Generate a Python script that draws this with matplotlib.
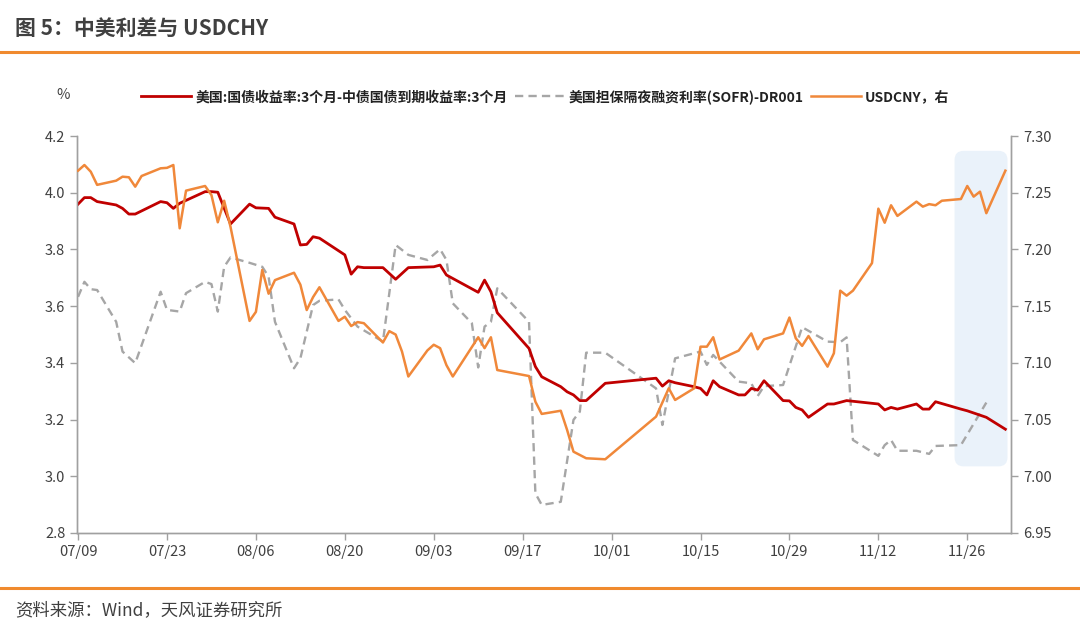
import matplotlib
matplotlib.use("Agg")
import matplotlib.pyplot as plt
import matplotlib.dates as mdates
import numpy as np
import pandas as pd
from matplotlib.lines import Line2D
from matplotlib.patches import FancyBboxPatch
from matplotlib.transforms import IdentityTransform

plt.rcParams["font.family"] = ["Noto Sans CJK SC", "DejaVu Sans"]

YEAR = "2024-"

# 美国:国债收益率:3个月-中债国债到期收益率:3个月 (left axis)
spread_dates = [
    "07-09", "07-10", "07-11", "07-12", "07-15", "07-16", "07-17", "07-18", "07-22", "07-23",
    "07-24", "07-25", "07-29", "07-30", "07-31", "08-02", "08-05", "08-06", "08-08", "08-09",
    "08-12", "08-13", "08-14", "08-15", "08-16", "08-20", "08-21", "08-22", "08-23", "08-26",
    "08-28", "08-30", "09-03", "09-04", "09-05", "09-10", "09-11", "09-12", "09-13", "09-18",
    "09-19", "09-20", "09-23", "09-24", "09-25", "09-26", "09-27", "09-30", "10-08", "10-09",
    "10-10", "10-11", "10-14", "10-15", "10-16", "10-17", "10-18", "10-21", "10-22", "10-23",
    "10-24", "10-25", "10-28", "10-29", "10-30", "10-31", "11-01", "11-04", "11-05", "11-07",
    "11-12", "11-13", "11-14", "11-15", "11-18", "11-19", "11-20", "11-21", "11-25", "11-26",
    "11-29", "12-02",
]
spread_vals = [
    3.960, 3.983, 3.983, 3.969, 3.957, 3.945, 3.925, 3.925, 3.969, 3.965,
    3.945, 3.963, 4.004, 4.004, 4.002, 3.890, 3.960, 3.947, 3.945, 3.914,
    3.890, 3.816, 3.818, 3.845, 3.840, 3.781, 3.713, 3.739, 3.736, 3.736,
    3.695, 3.736, 3.739, 3.745, 3.710, 3.649, 3.692, 3.651, 3.577, 3.451,
    3.387, 3.351, 3.316, 3.298, 3.287, 3.267, 3.267, 3.328, 3.346, 3.318,
    3.337, 3.330, 3.316, 3.310, 3.287, 3.337, 3.316, 3.287, 3.287, 3.310,
    3.304, 3.337, 3.267, 3.266, 3.243, 3.234, 3.208, 3.255, 3.255, 3.267,
    3.255, 3.234, 3.243, 3.237, 3.255, 3.237, 3.237, 3.263, 3.237, 3.231,
    3.208, 3.166,
]

# 美国担保隔夜融资利率(SOFR)-DR001 (left axis)
sofr_dates = [
    "07-09", "07-10", "07-11", "07-12", "07-15", "07-16", "07-18", "07-22", "07-23", "07-25",
    "07-26", "07-29", "07-30", "07-31", "08-01", "08-02", "08-05", "08-07", "08-08", "08-09",
    "08-12", "08-13", "08-15", "08-16", "08-19", "08-20", "08-22", "08-26", "08-28", "08-30",
    "09-02", "09-04", "09-05", "09-06", "09-09", "09-10", "09-11", "09-12", "09-13", "09-18",
    "09-19", "09-20", "09-23", "09-25", "09-26", "09-27", "09-30", "10-08", "10-09", "10-11",
    "10-15", "10-16", "10-17", "10-21", "10-23", "10-24", "10-25", "10-28", "10-31", "11-04",
    "11-06", "11-07", "11-08", "11-12", "11-13", "11-14", "11-15", "11-18", "11-20", "11-21",
    "11-25", "11-29",
]
sofr_vals = [
    3.633, 3.686, 3.660, 3.657, 3.545, 3.440, 3.399, 3.651, 3.587, 3.581,
    3.646, 3.686, 3.678, 3.581, 3.739, 3.772, 3.753, 3.739, 3.704, 3.545,
    3.381, 3.416, 3.604, 3.619, 3.624, 3.587, 3.528, 3.475, 3.816, 3.781,
    3.763, 3.801, 3.763, 3.610, 3.540, 3.384, 3.528, 3.545, 3.663, 3.545,
    2.940, 2.899, 2.910, 3.199, 3.228, 3.436, 3.436, 3.310, 3.181, 3.416,
    3.440, 3.393, 3.428, 3.334, 3.328, 3.283, 3.318, 3.322, 3.526, 3.475,
    3.473, 3.490, 3.128, 3.072, 3.110, 3.128, 3.090, 3.090, 3.079, 3.107,
    3.110, 3.260,
]

# USDCNY (right axis)
usd_dates = [
    "07-09", "07-10", "07-11", "07-12", "07-15", "07-16", "07-17", "07-18", "07-19", "07-22",
    "07-23", "07-24", "07-25", "07-26", "07-29", "07-30", "07-31", "08-01", "08-02", "08-05",
    "08-06", "08-07", "08-08", "08-09", "08-12", "08-13", "08-14", "08-15", "08-16", "08-19",
    "08-20", "08-21", "08-22", "08-23", "08-26", "08-27", "08-28", "08-29", "08-30", "09-02",
    "09-03", "09-04", "09-05", "09-06", "09-10", "09-11", "09-12", "09-13", "09-18", "09-19",
    "09-20", "09-23", "09-24", "09-25", "09-27", "09-30", "10-08", "10-10", "10-11", "10-14",
    "10-15", "10-16", "10-17", "10-18", "10-21", "10-23", "10-24", "10-25", "10-28", "10-29",
    "10-30", "10-31", "11-01", "11-04", "11-05", "11-06", "11-07", "11-08", "11-11", "11-12",
    "11-13", "11-14", "11-15", "11-18", "11-19", "11-20", "11-21", "11-22", "11-25", "11-26",
    "11-27", "11-28", "11-29", "12-02",
]
usd_vals = [
    7.2695, 7.2745, 7.2686, 7.2570, 7.2607, 7.2642, 7.2637, 7.2554, 7.2648, 7.2716,
    7.2720, 7.2745, 7.2187, 7.2519, 7.2560, 7.2480, 7.2240, 7.2430, 7.2200, 7.1370,
    7.1450, 7.1820, 7.1610, 7.1730, 7.1795, 7.1690, 7.1466, 7.1580, 7.1667, 7.1370,
    7.1407, 7.1325, 7.1360, 7.1350, 7.1180, 7.1280, 7.1250, 7.1100, 7.0880, 7.1110,
    7.1160, 7.1130, 7.0980, 7.0880, 7.1226, 7.1130, 7.1226, 7.0937, 7.0884, 7.0658,
    7.0550, 7.0578, 7.0408, 7.0217, 7.0159, 7.0150, 7.0526, 7.0776, 7.0673, 7.0776,
    7.1143, 7.1143, 7.1226, 7.1030, 7.1108, 7.1260, 7.1120, 7.1208, 7.1260, 7.1400,
    7.1217, 7.1150, 7.1237, 7.0967, 7.1085, 7.1637, 7.1593, 7.1637, 7.1880, 7.2360,
    7.2236, 7.2390, 7.2296, 7.2422, 7.2378, 7.2400, 7.2390, 7.2430, 7.2445, 7.2560,
    7.2466, 7.2510, 7.2320, 7.2695,
]

labels = [
    "美国:国债收益率:3个月-中债国债到期收益率:3个月",
    "美国担保隔夜融资利率(SOFR)-DR001",
    "USDCNY，右",
]

# highlighted window
hl_start, hl_end = "11-24", "12-02"
hl_low, hl_high = 3.035, 4.148


def to_dt(days):
    return pd.to_datetime([YEAR + d for d in days])


RED = "#C00000"
ORANGE = "#F0883A"
GRAY = "#A6A6A6"
TEXT = "#404040"
AXIS = "#A0A0A0"

fig = plt.figure(figsize=(10.8, 6.33), dpi=100)
ax1 = fig.add_axes([0.0713, 0.158, 0.865, 0.627])
ax2 = ax1.twinx()

l1, = ax1.plot(to_dt(spread_dates), spread_vals, color=RED, lw=2.0, zorder=4)
l2, = ax1.plot(to_dt(sofr_dates), sofr_vals, color=GRAY, lw=1.7,
               dashes=(3.5, 2.2), zorder=3)
l3, = ax2.plot(to_dt(usd_dates), usd_vals, color=ORANGE, lw=1.8, zorder=3)

ax1.set_ylim(2.8, 4.2)
ax1.set_yticks(np.arange(2.8, 4.21, 0.2))
ax1.yaxis.set_major_formatter(matplotlib.ticker.FormatStrFormatter("%.1f"))
ax2.set_ylim(6.95, 7.30)
ax2.set_yticks(np.arange(6.95, 7.301, 0.05))
ax2.yaxis.set_major_formatter(matplotlib.ticker.FormatStrFormatter("%.2f"))

x0 = pd.Timestamp(YEAR + "07-09")
ax1.set_xlim(x0 - pd.Timedelta(hours=4), pd.Timestamp(YEAR + "12-02") + pd.Timedelta(hours=22))
ax1.set_xticks(pd.date_range(x0, periods=11, freq="14D"))
ax1.xaxis.set_major_formatter(mdates.DateFormatter("%m/%d"))

for ax in (ax1, ax2):
    ax.spines["top"].set_visible(False)
    for s in ("left", "right", "bottom"):
        ax.spines[s].set_color(AXIS)
        ax.spines[s].set_linewidth(1.0)
    ax.tick_params(colors=AXIS, labelcolor=TEXT, labelsize=10.5, length=5, width=1.0)
ax1.patch.set_visible(False)
ax2.patch.set_visible(False)

# highlight box with rounded corners (built in pixel space from data corners)
fig.canvas.draw()
p0 = ax1.transData.transform((mdates.date2num(pd.Timestamp(YEAR + hl_start)), hl_low))
p1 = ax1.transData.transform((mdates.date2num(pd.Timestamp(YEAR + hl_end) + pd.Timedelta(hours=8)), hl_high))
box = FancyBboxPatch((p0[0], p0[1]), p1[0] - p0[0], p1[1] - p0[1],
                     boxstyle="round,pad=0,rounding_size=9",
                     transform=IdentityTransform(), facecolor="#EAF2FA",
                     edgecolor="none", zorder=0.5, clip_on=False)
ax1.add_artist(box)

fig.legend([l1, l2, l3], labels, loc="center", bbox_to_anchor=(0.505, 0.847),
           ncol=3, frameon=False, handlelength=3.6, handletextpad=0.3,
           columnspacing=0.5, prop={"size": 10, "weight": "bold"},
           labelcolor="#222222")
fig.text(0.052, 0.85, "%", fontsize=10.5, color=TEXT, va="center")

# title and footer
fig.text(0.014, 0.953, "图 5：中美利差与 USDCHY", fontsize=15, fontweight="bold",
         color=TEXT, va="center")
fig.add_artist(Line2D([0, 1], [0.918, 0.918], transform=fig.transFigure,
                      color="#F08A2E", lw=2.2))
fig.add_artist(Line2D([0, 1], [0.071, 0.071], transform=fig.transFigure,
                      color="#F08A2E", lw=2.2))
fig.text(0.014, 0.036, "资料来源：Wind，天风证券研究所", fontsize=12.5,
         color=TEXT, va="center")

fig.savefig("out.png", dpi=100)
